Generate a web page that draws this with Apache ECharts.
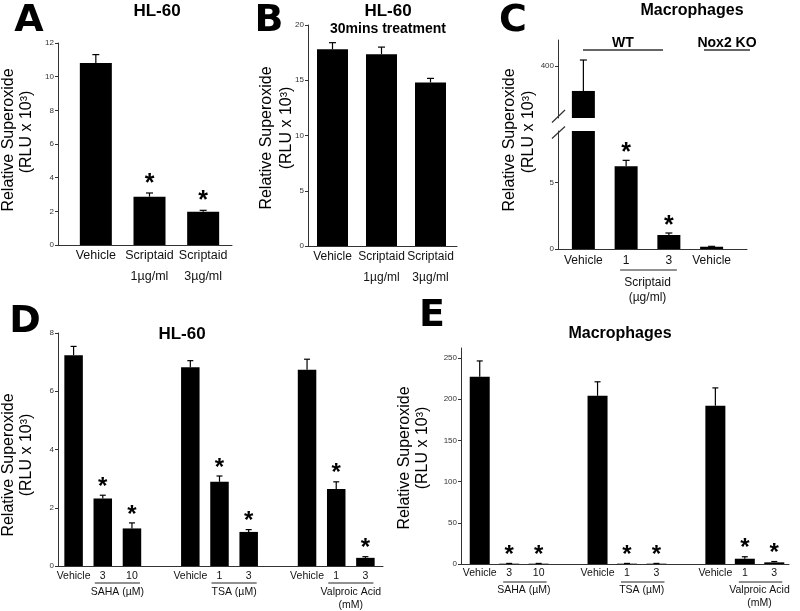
<!DOCTYPE html>
<html><head><meta charset="utf-8">
<script src="https://cdn.jsdelivr.net/npm/echarts@6/dist/echarts.min.js"></script>
<style>html,body{margin:0;padding:0;background:#fff}#c{width:800px;height:611px}</style>
</head><body><div id="c"></div>
<script>
// ---------- DATA ----------
// Panel A: HL-60
const aCategories = ['Vehicle', 'Scriptaid\n1µg/ml', 'Scriptaid\n3µg/ml'];
const aValues = [10.81, 2.87, 1.98];
const aErrors = [0.5, 0.22, 0.08];
const aSig = [0, 1, 1];
// Panel B: HL-60 30mins treatment
const bCategories = ['Vehicle', 'Scriptaid\n1µg/ml', 'Scriptaid\n3µg/ml'];
const bValues = [17.8, 17.35, 14.8];
const bErrors = [0.6, 0.65, 0.37];
const bSig = [0, 0, 0];
// Panel C: Macrophages (broken axis)
const cCategories = ['Vehicle', '1', '3', 'Vehicle'];
const cValues = [352, 6.2, 1.05, 0.17];
const cErrors = [59.5, 0.45, 0.15, 0.03];
const cSig = [0, 1, 1, 0];
const cUpperTicks = [400];
const cLowerTicks = [0, 5];
const cGroupLabels = ['Scriptaid\n(µg/ml)'];
const cGroupSpans = [[1, 2]];
// Panel D: HL-60
const dCategories = ['Vehicle', '3', '10', '', 'Vehicle', '1', '3', '', 'Vehicle', '1', '3'];
const dValues = [7.24, 2.32, 1.29, null, 6.82, 2.89, 1.17, null, 6.74, 2.64, 0.28];
const dErrors = [0.3, 0.11, 0.19, null, 0.23, 0.2, 0.08, null, 0.36, 0.25, 0.04];
const dSig = [0, 1, 1, 0, 0, 1, 1, 0, 0, 1, 1];
const dGroupLabels = ['SAHA (µM)', 'TSA (µM)', 'Valproic Acid\n(mM)'];
const dGroupSpans = [[1, 2], [5, 6], [9, 10]];
// Panel E: Macrophages
const eCategories = ['Vehicle', '3', '10', '', 'Vehicle', '1', '3', '', 'Vehicle', '1', '3'];
const eValues = [227, 0.4, 0.4, null, 204, 0.4, 0.4, null, 192, 6.4, 2.0];
const eErrors = [19.3, 0.3, 0.3, null, 17, 0.3, 0.3, null, 21.6, 2.4, 1.0];
const eSig = [0, 1, 1, 0, 0, 1, 1, 0, 0, 1, 1];
const eTicks = [0, 50, 100, 150, 200, 250];
const eGroupLabels = ['SAHA (µM)', 'TSA (µM)', 'Valproic Acid\n(mM)'];
const eGroupSpans = [[1, 2], [5, 6], [9, 10]];
const yTitle1 = 'Relative Superoxide';
const yTitle2 = '(RLU x 10³)';

// ---------- BUILD ----------
const FONT = '"Liberation Sans", Arial, Helvetica, sans-serif';
const AXC = '#333';
const grids = [], xAxes = [], yAxes = [], series = [];

function errRender(cap, star, gap) {
  return function (params, api) {
    const v = api.value(1), e = api.value(2), s = api.value(3);
    if (isNaN(v)) return null;
    const i = api.value(0);
    const b = api.coord([i, v]);
    const t = api.coord([i, v + (isNaN(e) ? 0 : e)]);
    const cs = params.coordSys;
    if (b[1] < cs.y - 0.5 || b[1] > cs.y + cs.height + 0.5) return null;
    const ch = [];
    if (e > 0) {
      ch.push({type: 'line', shape: {x1: b[0], y1: b[1], x2: t[0], y2: t[1]}, style: {stroke: '#000', lineWidth: 1.2}});
      ch.push({type: 'line', shape: {x1: t[0] - cap, y1: t[1], x2: t[0] + cap, y2: t[1]}, style: {stroke: '#000', lineWidth: 1.2}});
    }
    if (s) {
      ch.push({type: 'text', x: t[0], y: t[1] - gap,
        style: {text: '*', font: 'bold ' + star + 'px ' + FONT, fill: '#000', align: 'center', verticalAlign: 'middle'}});
    }
    return {type: 'group', children: ch};
  };
}

function panel(o) {
  const gi = grids.length;
  grids.push({left: o.left, top: o.top, width: o.width, height: o.height});
  xAxes.push({type: 'category', gridIndex: gi, data: o.cats, show: o.showX !== false,
    axisLine: {show: false}, axisTick: {show: false},
    axisLabel: {interval: 0, fontSize: o.lf, lineHeight: o.lh, margin: o.lm, color: '#111', fontFamily: FONT}});
  const yl = {fontSize: 8, color: AXC, margin: 4, fontFamily: FONT};
  const yt = {show: true, length: 3, lineStyle: {color: AXC}};
  if (o.ticks) { yl.customValues = o.ticks; yt.customValues = o.ticks; }
  const ya = {type: 'value', gridIndex: gi, min: o.min, max: o.max, offset: o.yOffset || 0,
    axisLine: {show: true, lineStyle: {color: AXC, width: 1}}, axisTick: yt, axisLabel: yl, splitLine: {show: false}};
  if (o.interval) ya.interval = o.interval;
  yAxes.push(ya);
  series.push({type: 'bar', xAxisIndex: gi, yAxisIndex: gi, data: o.values, barWidth: o.bw,
    itemStyle: {color: '#000'}, silent: true, animation: false, clip: true});
  series.push({type: 'custom', xAxisIndex: gi, yAxisIndex: gi, animation: false, silent: true,
    data: o.values.map((v, i) => [i, v == null ? '-' : v, o.errors[i] == null ? '-' : o.errors[i], o.sig[i]]),
    renderItem: errRender(o.cap, o.star, o.gap)});
  if (o.frame) {
    const fi = grids.length;
    grids.push({left: o.frame.left, top: o.top, width: o.frame.width, height: o.height});
    xAxes.push({type: 'value', gridIndex: fi, min: 0, max: 1, axisLine: {show: true, lineStyle: {color: AXC}},
      axisTick: {show: false}, axisLabel: {show: false}, splitLine: {show: false}});
    yAxes.push({type: 'value', gridIndex: fi, min: 0, max: 1, show: false});
  }
  return gi;
}

const gA = panel({left: 69, top: 43, width: 161, height: 202, yOffset: 11, frame: {left: 58, width: 174},
  cats: aCategories, values: aValues, errors: aErrors, sig: aSig, min: 0, max: 12, interval: 2,
  lf: 12.5, lh: 21, lm: 0, bw: 32, cap: 3.5, star: 25, gap: 9});
const gB = panel({left: 308, top: 25, width: 147, height: 221, frame: {left: 308, width: 149},
  cats: bCategories, values: bValues, errors: bErrors, sig: bSig, min: 0, max: 20, interval: 5,
  lf: 12, lh: 21, lm: 0, bw: 31, cap: 3.5, star: 25, gap: 9});
const gCu = panel({left: 562, top: 40, width: 171, height: 78, yOffset: 4, showX: false,
  cats: cCategories, values: cValues, errors: cErrors, sig: cSig, min: 300, max: 450, ticks: cUpperTicks,
  lf: 12, lh: 14, lm: 5, bw: 23, cap: 3.5, star: 25, gap: 7});
const gC = panel({left: 562, top: 131, width: 171, height: 118, yOffset: 4, frame: {left: 558, width: 189},
  cats: cCategories, values: cValues, errors: cErrors, sig: cSig, min: 0, max: 8.85, ticks: cLowerTicks,
  lf: 12, lh: 14, lm: 5, bw: 23, cap: 3.5, star: 25, gap: 7});
const gD = panel({left: 59, top: 333, width: 321, height: 233, yOffset: 1, frame: {left: 58, width: 325},
  cats: dCategories, values: dValues, errors: dErrors, sig: dSig, min: 0, max: 8, interval: 2,
  lf: 10.5, lh: 13, lm: 3.5, bw: 18.5, cap: 3, star: 24, gap: 8});
const gE = panel({left: 465, top: 348, width: 324, height: 216, yOffset: 4, frame: {left: 461, width: 328},
  cats: eCategories, values: eValues, errors: eErrors, sig: eSig, min: 0, max: 262, ticks: eTicks,
  lf: 10.5, lh: 13, lm: 3, bw: 20, cap: 3, star: 24, gap: 8});

const chart = echarts.init(document.getElementById('c'), null, {renderer: 'canvas'});
chart.setOption({animation: false, backgroundColor: '#fff', grid: grids, xAxis: xAxes, yAxis: yAxes, series: series});

// ---------- ANNOTATIONS ----------
const g = [];
function txt(t, x, y, font, extra) {
  g.push(Object.assign({type: 'text', x: x, y: y, silent: true,
    style: Object.assign({text: t, font: font, fill: '#000', align: 'center', verticalAlign: 'middle'}, extra || {})}));
}
function vtxt(t, x, y) {
  g.push({type: 'text', x: x, y: y, rotation: Math.PI / 2, silent: true,
    style: {text: t, font: '16px ' + FONT, fill: '#000', align: 'center', verticalAlign: 'middle'}});
}
function hline(x1, y, x2, w, c) {
  g.push({type: 'line', silent: true, shape: {x1: x1, y1: y, x2: x2, y2: y}, style: {stroke: c || '#333', lineWidth: w || 1.2}});
}
const LETTER = 'bold 38px "DejaVu Sans", ' + FONT;
txt('A', 29, 21, LETTER); txt('B', 269, 21, LETTER); txt('C', 513, 21, LETTER);
txt('D', 25, 322, LETTER); txt('E', 432, 316, LETTER);
txt('HL-60', 157, 11, 'bold 17px ' + FONT);
txt('HL-60', 388, 11, 'bold 17px ' + FONT);
txt('30mins treatment', 388, 29, 'bold 14px ' + FONT);
txt('Macrophages', 692, 11, 'bold 16px ' + FONT);
txt('HL-60', 182, 334, 'bold 17px ' + FONT);
txt('Macrophages', 620, 334, 'bold 16px ' + FONT);
// y titles
vtxt(yTitle1, 9, 140); vtxt(yTitle2, 27, 132);
vtxt(yTitle1, 267, 138); vtxt(yTitle2, 287, 128);
vtxt(yTitle1, 510, 140); vtxt(yTitle2, 529, 132);
vtxt(yTitle1, 9, 465); vtxt(yTitle2, 27, 455);
vtxt(yTitle1, 405, 458); vtxt(yTitle2, 423, 448);
// C: WT / Nox2 KO brackets
txt('WT', 623, 43, 'bold 14px ' + FONT); hline(583, 50, 663, 1.5);
txt('Nox2 KO', 727, 43, 'bold 14px ' + FONT); hline(704, 50, 750, 1.5);
// C: axis break slashes
g.push({type: 'line', silent: true, shape: {x1: 552, y1: 122.5, x2: 565, y2: 110}, style: {stroke: AXC, lineWidth: 1.2}});
g.push({type: 'line', silent: true, shape: {x1: 552, y1: 138.5, x2: 565, y2: 126.5}, style: {stroke: AXC, lineWidth: 1.2}});

function groupMarks(gi, spans, labels, lineDy, textDy, font, lh, padL, padR) {
  spans.forEach((sp, k) => {
    const p1 = chart.convertToPixel({gridIndex: gi}, [sp[0], 0]);
    const p2 = chart.convertToPixel({gridIndex: gi}, [sp[1], 0]);
    hline(p1[0] - padL, p1[1] + lineDy, p2[0] + padR, 1, '#222');
    g.push({type: 'text', x: (p1[0] + p2[0]) / 2, y: p1[1] + textDy, silent: true,
      style: {text: labels[k], font: font, lineHeight: lh, fill: '#111', align: 'center', verticalAlign: 'top'}});
  });
}
groupMarks(gC, cGroupSpans, cGroupLabels, 21, 26.5, '12px ' + FONT, 15, 6, 8);
groupMarks(gD, dGroupSpans, dGroupLabels, 17, 19.5, '10.5px ' + FONT, 13, 8, 8);
groupMarks(gE, eGroupSpans, eGroupLabels, 18, 19.5, '10.5px ' + FONT, 13, 6, 8);

chart.setOption({graphic: {elements: g}});
</script>
</body></html>
